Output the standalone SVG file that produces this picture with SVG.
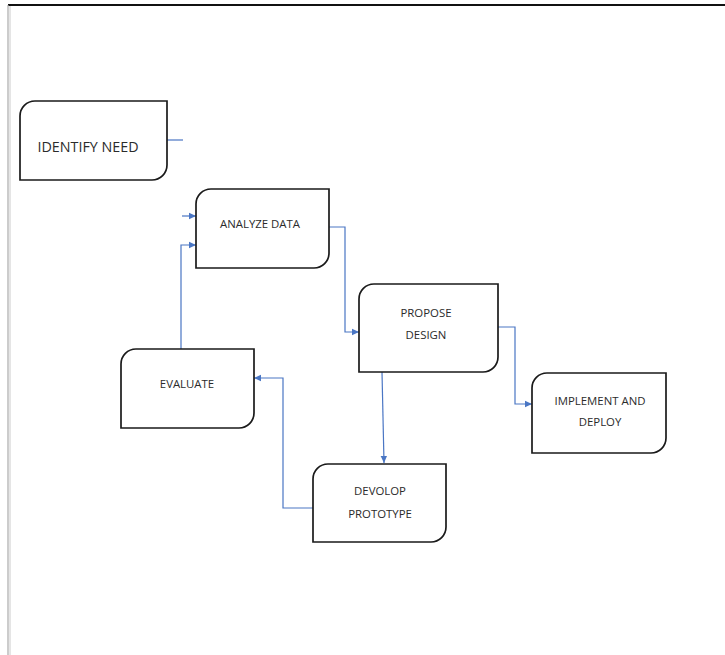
<svg xmlns="http://www.w3.org/2000/svg" width="725" height="655" viewBox="0 0 725 655">
<style>
.box{fill:#fff;stroke:#1a1a1a;stroke-width:1.7}
.t{font-family:"Open Sans","Liberation Sans",sans-serif;fill:#2b2b2b;text-anchor:middle;font-size:11.4px}
.c{fill:none;stroke:#4a76c4;stroke-width:1.2}
</style>
<defs>
<marker id="ar" markerWidth="8" markerHeight="8" refX="7" refY="4" orient="auto" markerUnits="userSpaceOnUse">
<path d="M0,0.8 L7,4 L0,7.2 Z" fill="#4a76c4"/>
</marker>
</defs>
<rect width="725" height="655" fill="#fff"/>
<line x1="8" y1="5" x2="725" y2="5" stroke="#111" stroke-width="2"/>
<line x1="8" y1="5" x2="8" y2="655" stroke="#aaa" stroke-width="1.2"/>
<line x1="10" y1="6" x2="10" y2="655" stroke="#ccc" stroke-width="1"/>

<g id="connectors">
<path class="c" d="M167,140 H183"/>
<path class="c" d="M182,216 H196" marker-end="url(#ar)"/>
<path class="c" d="M329,227 H345 V332 H359" marker-end="url(#ar)"/>
<path class="c" d="M498,327 H515 V404 H532" marker-end="url(#ar)"/>
<path class="c" d="M382,372 L384,463" marker-end="url(#ar)"/>
<path class="c" d="M313,508 H283 V378 H254" marker-end="url(#ar)"/>
<path class="c" d="M181,349 V245 H196" marker-end="url(#ar)"/>
</g>

<g id="identify-need">
<path class="box" d="M35,101 H167 V165 A15,15 0 0 1 152,180 H20 V116 A15,15 0 0 1 35,101 Z"/>
<text class="t" x="88" y="152" style="font-size:14.3px">IDENTIFY NEED</text>
</g>

<g id="analyze-data">
<path class="box" d="M211,189 H329 V253 A15,15 0 0 1 314,268 H196 V204 A15,15 0 0 1 211,189 Z"/>
<text class="t" x="260" y="228">ANALYZE DATA</text>
</g>

<g id="propose-design">
<path class="box" d="M374,284 H498 V357 A15,15 0 0 1 483,372 H359 V299 A15,15 0 0 1 374,284 Z"/>
<text class="t" x="426" y="317">PROPOSE</text>
<text class="t" x="426" y="339">DESIGN</text>
</g>

<g id="evaluate">
<path class="box" d="M136,349 H254 V413 A15,15 0 0 1 239,428 H121 V364 A15,15 0 0 1 136,349 Z"/>
<text class="t" x="187" y="388">EVALUATE</text>
</g>

<g id="implement-deploy">
<path class="box" d="M547,373 H666 V438 A15,15 0 0 1 651,453 H532 V388 A15,15 0 0 1 547,373 Z"/>
<text class="t" x="600" y="405">IMPLEMENT AND</text>
<text class="t" x="600" y="426">DEPLOY</text>
</g>

<g id="develop-prototype">
<path class="box" d="M328,464 H446 V527 A15,15 0 0 1 431,542 H313 V479 A15,15 0 0 1 328,464 Z"/>
<text class="t" x="380" y="495">DEVOLOP</text>
<text class="t" x="380" y="518">PROTOTYPE</text>
</g>
</svg>
